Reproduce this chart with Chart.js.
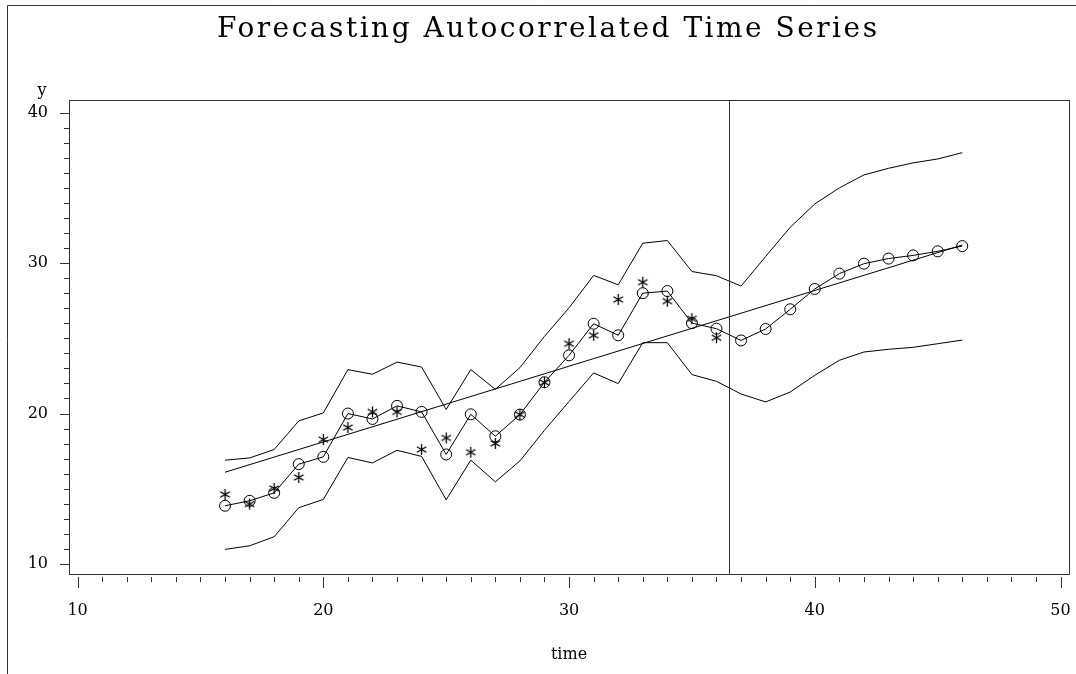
<!DOCTYPE html>
<html>
<head>
<meta charset="utf-8">
<script src="https://cdn.jsdelivr.net/npm/chart.js@4.4.1/dist/chart.umd.min.js"></script>
<style>
  html, body { margin: 0; padding: 0; background: #fff; }
  #lienzo { display: block; }
</style>
</head>
<body>
<canvas id="lienzo" width="1076" height="674"></canvas>
<script>
// Datos
const tiempos = [16, 17, 18, 19, 20, 21, 22, 23, 24, 25, 26, 27, 28, 29, 30, 31,
  32, 33, 34, 35, 36, 37, 38, 39, 40, 41, 42, 43, 44, 45, 46];
const observados = [14.62, 13.98, 15.02, 15.75, 18.27, 19.07, 20.11, 20.11, 17.61, 18.38,
  17.43, 18.01, 19.93, 22.06, 24.64, 25.2, 27.58, 28.73, 27.47, 26.3, 25.04];
const pronostico = [13.87, 14.2, 14.73, 16.64, 17.12, 20.0, 19.64, 20.51, 20.11, 17.28,
  19.95, 18.49, 19.93, 22.08, 23.87, 25.97, 25.2, 28.0, 28.14, 26.01, 25.64, 24.86,
  25.62, 26.93, 28.28, 29.3, 29.96, 30.3, 30.51, 30.78, 31.13];
const limiteSup = [16.9, 17.05, 17.61, 19.51, 20.04, 22.92, 22.61, 23.42, 23.09, 20.27,
  22.92, 21.61, 23.05, 25.13, 27.03, 29.18, 28.56, 31.32, 31.5, 29.44, 29.16, 28.47,
  30.44, 32.38, 33.93, 35.0, 35.86, 36.3, 36.66, 36.92, 37.34];
const limiteInf = [10.97, 11.21, 11.81, 13.74, 14.29, 17.08, 16.72, 17.56, 17.15, 14.27,
  16.9, 15.46, 16.85, 18.89, 20.8, 22.7, 21.99, 24.71, 24.71, 22.59, 22.14, 21.3,
  20.77, 21.43, 22.54, 23.54, 24.09, 24.27, 24.4, 24.64, 24.88];
const tendenciaT = [16, 46];
const tendenciaY = [16.1, 31.2];
const tiempoCorte = 36.5;
const ticksX = [10, 20, 30, 40, 50];
const ticksY = [10, 20, 30, 40];

const aPuntos = (xs, ys) => ys.map((v, i) => ({ x: xs[i], y: v }));

// Asterisco de seis brazos para los valores observados
function crearAsterisco() {
  const c = document.createElement('canvas');
  c.width = 13; c.height = 13;
  const g = c.getContext('2d');
  g.strokeStyle = '#000';
  g.lineWidth = 1.3;
  const r = 5.5;
  [90, 30, 150].forEach(ang => {
    const a = ang * Math.PI / 180;
    g.beginPath();
    g.moveTo(6.5 - r * Math.cos(a), 6.5 - r * Math.sin(a));
    g.lineTo(6.5 + r * Math.cos(a), 6.5 + r * Math.sin(a));
    g.stroke();
  });
  return c;
}

const fuente = 'DejaVu Serif';
Chart.defaults.font.family = fuente;
Chart.defaults.color = '#000';

const marco = {
  id: 'marco',
  beforeDraw(chart) {
    const ctx = chart.ctx;
    ctx.save();
    ctx.fillStyle = '#fff';
    ctx.fillRect(0, 0, chart.width, chart.height);
    ctx.strokeStyle = '#333';
    ctx.lineWidth = 1;
    ctx.beginPath();
    ctx.moveTo(7.5, chart.height);
    ctx.lineTo(7.5, 5.5);
    ctx.lineTo(chart.width, 5.5);
    ctx.stroke();
    ctx.restore();
  },
  afterDraw(chart) {
    const { ctx, chartArea: a, scales: { x, y } } = chart;
    ctx.save();
    ctx.strokeStyle = '#333';
    ctx.lineWidth = 1;
    ctx.strokeRect(Math.round(a.left) + 0.5, Math.round(a.top) + 0.5,
      Math.round(a.right - a.left), Math.round(a.bottom - a.top));

    // linea vertical de corte
    const pc = Math.round(x.getPixelForValue(tiempoCorte)) + 0.5;
    ctx.beginPath();
    ctx.moveTo(pc, a.top);
    ctx.lineTo(pc, a.bottom);
    ctx.stroke();

    // marcas del eje x (mayores y menores)
    ctx.beginPath();
    for (let v = ticksX[0]; v <= ticksX[ticksX.length - 1]; v++) {
      const p = Math.round(x.getPixelForValue(v)) + 0.5;
      const largo = v % 10 === 0 ? 11 : 5;
      ctx.moveTo(p, a.bottom + 3);
      ctx.lineTo(p, a.bottom + 3 + largo);
    }
    // marcas del eje y
    for (let v = ticksY[0]; v <= ticksY[ticksY.length - 1]; v++) {
      const p = Math.round(y.getPixelForValue(v)) + 0.5;
      const largo = v % 10 === 0 ? 9 : 5;
      ctx.moveTo(a.left, p);
      ctx.lineTo(a.left - largo, p);
    }
    ctx.stroke();

    // titulo
    ctx.fillStyle = '#000';
    ctx.font = '28px "' + fuente + '"';
    ctx.textAlign = 'left';
    ctx.textBaseline = 'alphabetic';
    const titulo = 'Forecasting Autocorrelated Time Series';
    const ancho = ctx.measureText(titulo).width;
    const espacio = Math.max(0, (660 - ancho) / (titulo.length - 1));
    ctx.letterSpacing = espacio + 'px';
    ctx.fillText(titulo, 217, 37);
    ctx.letterSpacing = '0px';

    // etiqueta del eje y
    ctx.textAlign = 'center';
    ctx.font = '16px "' + fuente + '"';
    ctx.textBaseline = 'middle';
    ctx.fillText('y', 42, 91);
    ctx.restore();
  }
};

const grafico = new Chart(document.getElementById('lienzo'), {
  type: 'scatter',
  data: {
    datasets: [
      {
        label: 'Límite superior',
        data: aPuntos(tiempos, limiteSup),
        showLine: true, borderColor: '#000', borderWidth: 1, pointRadius: 0
      },
      {
        label: 'Límite inferior',
        data: aPuntos(tiempos, limiteInf),
        showLine: true, borderColor: '#000', borderWidth: 1, pointRadius: 0
      },
      {
        label: 'Tendencia',
        data: aPuntos(tendenciaT, tendenciaY),
        showLine: true, borderColor: '#000', borderWidth: 1, pointRadius: 0
      },
      {
        label: 'Pronóstico',
        data: aPuntos(tiempos, pronostico),
        showLine: true, borderColor: '#000', borderWidth: 1,
        pointStyle: 'circle', pointRadius: 5.5, pointBorderWidth: 1,
        pointBorderColor: '#000', pointBackgroundColor: 'rgba(0,0,0,0)'
      },
      {
        label: 'Observado',
        data: aPuntos(tiempos, observados),
        showLine: false, pointStyle: crearAsterisco(), pointRadius: 6
      }
    ]
  },
  options: {
    responsive: false,
    animation: false,
    events: [],
    layout: { padding: { top: 100, right: 5, left: 0, bottom: 0 } },
    plugins: {
      legend: { display: false },
      title: { display: false },
      tooltip: { enabled: false }
    },
    scales: {
      x: {
        type: 'linear',
        position: 'bottom',
        min: 9.65,
        max: 50.345,
        afterBuildTicks: s => { s.ticks = ticksX.map(v => ({ value: v })); },
        afterFit: s => { s.height = 100; s.paddingLeft = 0; s.paddingRight = 0; },
        grid: { display: false },
        border: { display: false },
        ticks: { font: { size: 16 }, padding: 19, maxRotation: 0 },
        title: { display: true, text: 'time', font: { size: 16 }, padding: { top: 0, bottom: 10 } }
      },
      y: {
        type: 'linear',
        min: 9.335,
        max: 40.84,
        afterBuildTicks: s => { s.ticks = ticksY.map(v => ({ value: v })); },
        afterFit: s => { s.width = 69; s.paddingTop = 0; s.paddingBottom = 0; },
        grid: { display: false },
        border: { display: false },
        ticks: { font: { size: 16 }, padding: 13 }
      }
    }
  },
  plugins: [marco]
});
</script>
</body>
</html>
